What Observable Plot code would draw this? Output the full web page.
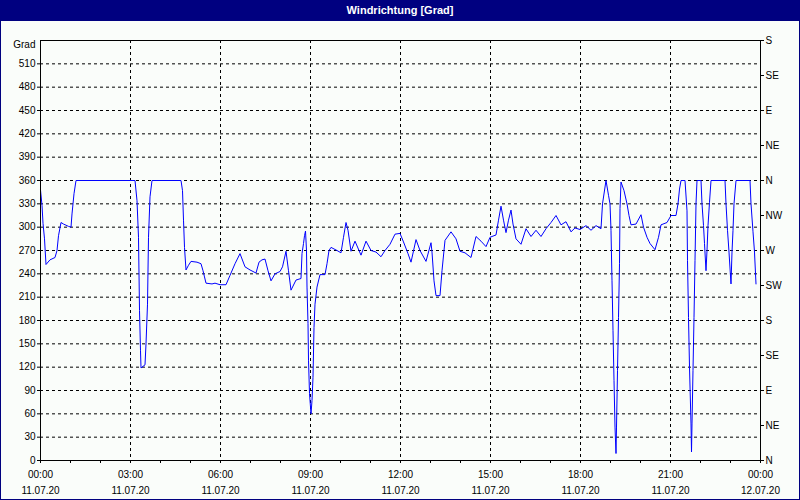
<!DOCTYPE html>
<html>
<head>
<meta charset="utf-8">
<script src="https://cdn.jsdelivr.net/npm/d3@7"></script>
<script src="https://cdn.jsdelivr.net/npm/@observablehq/plot@0.6"></script>
<style>
  html, body { margin: 0; padding: 0; background: #ffffff; }
  #chart { width: 800px; height: 500px; box-sizing: border-box; border: 1px solid #000080; background: #fafdfa; overflow: hidden; }
  #title { height: 20px; line-height: 19px; background: #000080; color: #ffffff; text-align: center;
           font-family: "Liberation Sans", Arial, sans-serif; font-weight: bold; font-size: 11px; }
  #plot svg { display: block; }
</style>
</head>
<body>
<div id="chart">
  <div id="title">Windrichtung [Grad]</div>
  <div id="plot"></div>
</div>
<script>
// Time of each reading (minutes after 00:00 on 11.07.20)
const minutes = [
  0,3,5,8,11,19,29,33,36,41,46,56,61,63,65,67,71,189,193,196,197,198,200,201,209,211,214,216,219,223,
  281,284,286,288,291,296,301,313,321,325,328,331,343,349,359,
  371,379,389,399,409,419,431,437,443,449,455,461,469,479,484,491,496,501,511,521,523,526,528,530,532,
  533,535,536,538,541,543,545,547,549,553,559,569,573,577,581,593,601,606,611,615,621,629,641,651,661,
  671,681,689,699,709,719,
  726,735,741,751,759,771,781,783,787,791,799,803,809,821,831,839,849,861,871,881,891,899,911,916,921,
  926,931,936,941,945,951,961,971,981,991,1001,1011,1021,1031,1041,1051,1061,1069,1079,
  1091,1101,1111,1121,1124,1131,1136,1139,1141,1143,1145,1147,1149,1151,1152,1154,1156,1158,1159,1161,
  1167,1173,1177,1181,1191,1201,1206,1213,1219,1229,1236,1241,1253,1261,1271,1275,1278,1281,1289,1293,
  1294,1296,1298,1301,1302,1303,1305,1307,1309,1311,1313,1321,1323,1326,1328,1331,1333,1335,1338,1341,
  1369,1371,1374,1377,1381,1383,1385,1387,1391,1419,1421,1425,1428,1431
];
// Wind direction in degrees
const degrees = [
  348,328,305,285,252,258,261,270,289,306,304,301,300,317,330,343,360,360,334,287,240,193,141,119,123,150,201,287,339,360,
  360,347,309,274,245,251,256,255,253,244,236,228,227,228,226,
  226,238,253,266,249,245,241,255,258,259,244,231,240,243,249,269,244,219,232,234,266,279,289,295,270,
  223,176,129,86,60,77,107,171,201,223,239,239,253,270,274,270,267,287,306,296,269,282,264,282,270,
  268,262,270,278,291,292,
  281,266,255,284,270,256,280,268,231,212,212,244,283,294,285,269,267,261,288,282,275,287,290,309,327,
  309,293,309,322,304,285,278,298,288,296,288,298,306,315,303,307,294,299,297,
  302,296,302,298,330,360,341,330,296,231,167,103,43,9,43,116,184,253,324,358,
  347,330,315,303,304,316,300,287,279,271,287,303,306,315,315,330,349,360,360,321,
  257,184,120,47,11,47,116,184,257,330,360,360,330,302,279,244,270,302,332,360,
  360,330,296,268,227,268,296,330,360,360,330,294,268,227
];

const leftTicks = [0,30,60,90,120,150,180,210,240,270,300,330,360,390,420,450,480,510];
const gridDegrees = [30,60,90,120,150,180,210,240,270,300,330,360,390,420,450,480,510];
const compassTicks = [0,45,90,135,180,225,270,315,360,405,450,495,540];
const compassLabels = ["N","NE","E","SE","S","SW","W","NW","N","NE","E","SE","S"];
const majorTicks = [0,180,360,540,720,900,1080,1260,1440];
const gridMinutes = [180,360,540,720,900,1080,1260];
const hourTicks = d3.range(0, 1441, 60);
const timeLabels = ["00:00","03:00","06:00","09:00","12:00","15:00","18:00","21:00","00:00"];
const dateLabels = ["11.07.20","11.07.20","11.07.20","11.07.20","11.07.20","11.07.20","11.07.20","11.07.20","12.07.20"];

const data = minutes.map((m, i) => ({m, v: degrees[i]}));

const chart = Plot.plot({
  width: 798,
  height: 478,
  marginLeft: 39,
  marginRight: 39,
  marginTop: 19,
  marginBottom: 39,
  style: {background: "transparent", fontFamily: "'Liberation Sans', Arial, sans-serif", fontSize: "10px", color: "black"},
  x: {domain: [0, 1440]},
  y: {domain: [0, 540]},
  marks: [
    Plot.ruleY(gridDegrees, {stroke: "black", strokeDasharray: "3,3"}),
    Plot.ruleX(gridMinutes, {stroke: "black", strokeDasharray: "3,3"}),
    Plot.line(data, {x: "m", y: "v", stroke: "#0000ff", strokeWidth: 1}),
    Plot.frame({stroke: "black"}),
    Plot.axisY({ticks: leftTicks, tickSize: 3, tickPadding: 2, label: null}),
    Plot.text(["Grad"], {frameAnchor: "top-left", dx: -5, dy: 4, textAnchor: "end", lineAnchor: "middle", fill: "black"}),
    Plot.axisY({anchor: "right", ticks: compassTicks, tickFormat: (d) => compassLabels[compassTicks.indexOf(d)], tickSize: 3, tickPadding: 2, label: null}),
    Plot.axisX({ticks: hourTicks, tickFormat: () => "", tickSize: 3, label: null}),
    Plot.axisX({ticks: majorTicks, tickFormat: (d) => { const i = majorTicks.indexOf(d); return timeLabels[i] + "\n" + dateLabels[i]; },
                tickSize: 3, tickPadding: 3, lineHeight: 1.6, label: null})
  ]
});
document.getElementById("plot").appendChild(chart);
</script>
</body>
</html>
